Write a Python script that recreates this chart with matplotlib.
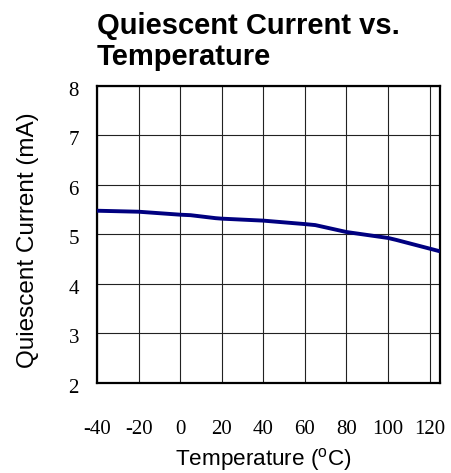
import matplotlib
matplotlib.use('Agg')
import matplotlib.pyplot as plt
import matplotlib.transforms as mtransforms

plt.rcParams['axes.unicode_minus'] = False

# data
temps = [-40, -20, -10, 0, 5, 17, 20, 40, 60, 65, 80, 100, 104, 125]
current = [5.48, 5.46, 5.43, 5.40, 5.39, 5.33, 5.32, 5.28, 5.21, 5.19, 5.05, 4.93, 4.89, 4.66]

x_ticks = [-40, -20, 0, 20, 40, 60, 80, 100, 120]
y_ticks = [2, 3, 4, 5, 6, 7, 8]

fig = plt.figure(figsize=(4.51, 4.73), dpi=100)
ax = fig.add_axes([0.2151, 0.1903, 0.7605, 0.6279])

ax.plot(temps, current, color='#000080', lw=2.8, solid_capstyle='butt', zorder=3)

ax.set_xlim(-40, 125)
ax.set_ylim(2, 8)
ax.set_xticks(x_ticks)
ax.set_yticks(y_ticks)
ax.grid(True, color='#222222', lw=0.8)
ax.tick_params(length=0)
ax.tick_params(axis='x', pad=27)
ax.tick_params(axis='y', pad=13)

for lab in ax.get_xticklabels() + ax.get_yticklabels():
    lab.set_family('Liberation Serif')
    lab.set_fontsize(15)
# y labels sit a bit below their grid lines
off = mtransforms.ScaledTranslation(0, -3 / 100, fig.dpi_scale_trans)
for lab in ax.get_yticklabels():
    lab.set_transform(lab.get_transform() + off)

for s in ax.spines.values():
    s.set_linewidth(1.6)
    s.set_color('black')

ax.set_xlabel(r'Temperature ($^{\mathregular{o}}$C)', family='Liberation Sans',
              fontsize=16.2, labelpad=5)
ax.xaxis.label.set_x(0.485)
ax.set_ylabel('Quiescent Current (mA)', family='Liberation Sans', fontsize=17.5,
              labelpad=21)
ax.yaxis.label.set_y(0.482)

fig.text(0.2151, 0.974, 'Quiescent Current vs.\nTemperature', family='Liberation Sans',
         fontweight='bold', fontsize=21, ha='left', va='top', linespacing=1.12)

fig.savefig('out.png', dpi=100)
